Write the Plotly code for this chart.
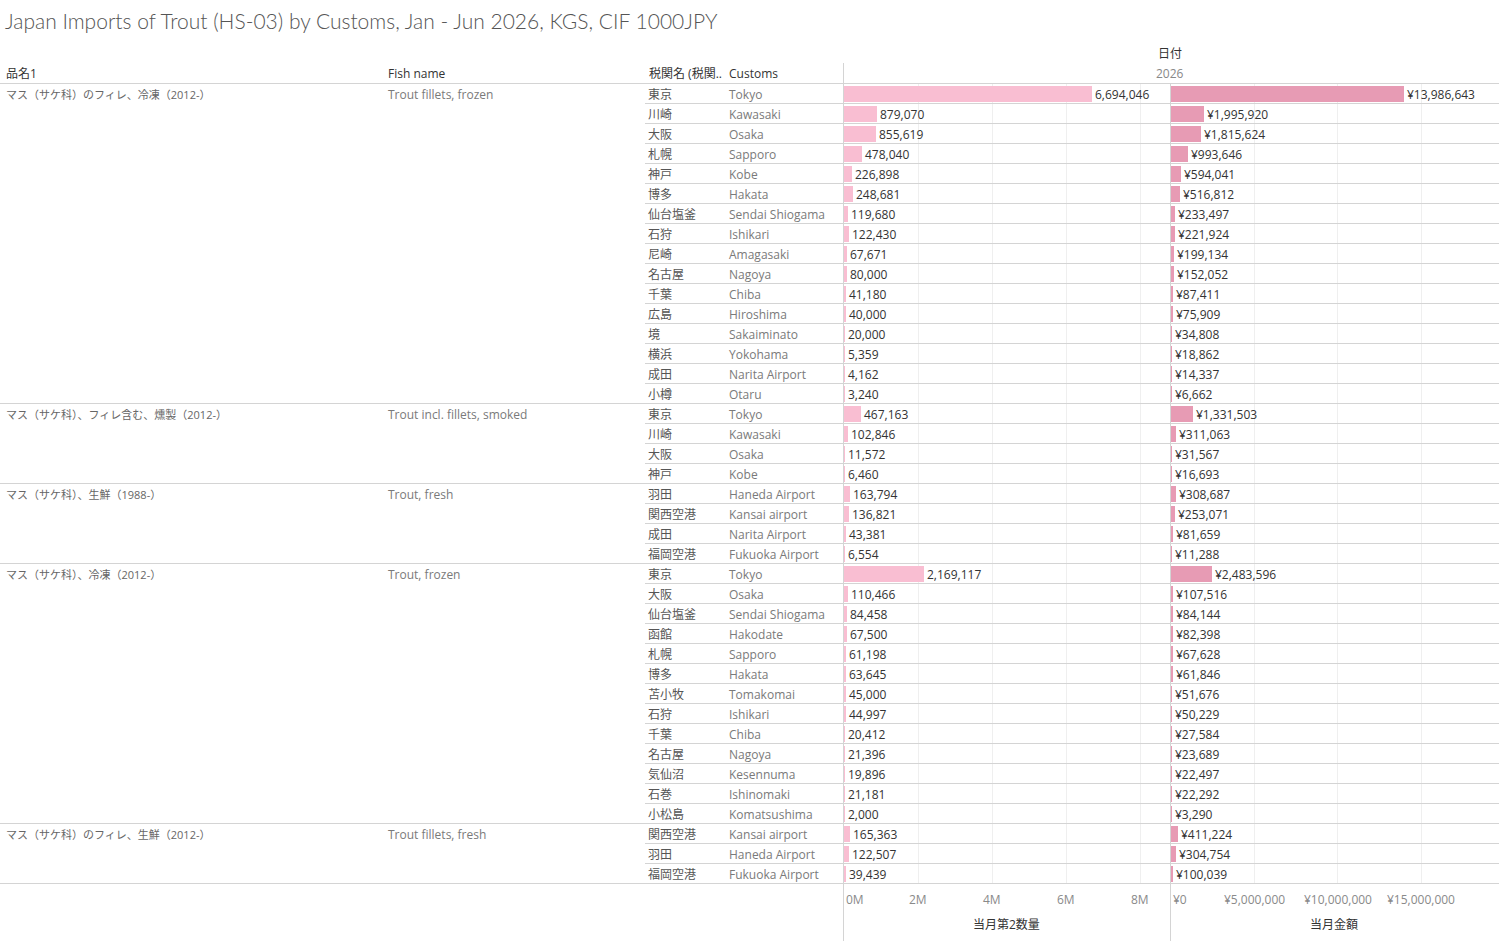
import plotly.graph_objects as go

W, H = 1499, 941

groups_jp = ["マス（サケ科）のフィレ、冷凍（2012-）",
             "マス（サケ科）、フィレ含む、燻製（2012-）",
             "マス（サケ科）、生鮮（1988-）",
             "マス（サケ科）、冷凍（2012-）",
             "マス（サケ科）のフィレ、生鮮（2012-）"]
groups_en = ["Trout fillets, frozen", "Trout incl. fillets, smoked", "Trout, fresh",
             "Trout, frozen", "Trout fillets, fresh"]
group_sizes = [16, 4, 4, 13, 3]

customs_jp = ["東京", "川崎", "大阪", "札幌", "神戸", "博多", "仙台塩釜", "石狩", "尼崎", "名古屋",
              "千葉", "広島", "境", "横浜", "成田", "小樽",
              "東京", "川崎", "大阪", "神戸",
              "羽田", "関西空港", "成田", "福岡空港",
              "東京", "大阪", "仙台塩釜", "函館", "札幌", "博多", "苫小牧", "石狩", "千葉", "名古屋",
              "気仙沼", "石巻", "小松島",
              "関西空港", "羽田", "福岡空港"]
customs_en = ["Tokyo", "Kawasaki", "Osaka", "Sapporo", "Kobe", "Hakata", "Sendai Shiogama", "Ishikari",
              "Amagasaki", "Nagoya", "Chiba", "Hiroshima", "Sakaiminato", "Yokohama", "Narita Airport", "Otaru",
              "Tokyo", "Kawasaki", "Osaka", "Kobe",
              "Haneda Airport", "Kansai airport", "Narita Airport", "Fukuoka Airport",
              "Tokyo", "Osaka", "Sendai Shiogama", "Hakodate", "Sapporo", "Hakata", "Tomakomai", "Ishikari",
              "Chiba", "Nagoya", "Kesennuma", "Ishinomaki", "Komatsushima",
              "Kansai airport", "Haneda Airport", "Fukuoka Airport"]
quantity = [6694046, 879070, 855619, 478040, 226898, 248681, 119680, 122430, 67671, 80000,
            41180, 40000, 20000, 5359, 4162, 3240,
            467163, 102846, 11572, 6460,
            163794, 136821, 43381, 6554,
            2169117, 110466, 84458, 67500, 61198, 63645, 45000, 44997, 20412, 21396,
            19896, 21181, 2000,
            165363, 122507, 39439]
amount = [13986643, 1995920, 1815624, 993646, 594041, 516812, 233497, 221924, 199134, 152052,
          87411, 75909, 34808, 18862, 14337, 6662,
          1331503, 311063, 31567, 16693,
          308687, 253071, 81659, 11288,
          2483596, 107516, 84144, 82398, 67628, 61846, 51676, 50229, 27584, 23689,
          22497, 22292, 3290,
          411224, 304754, 100039]

qty_ticks = [0, 2000000, 4000000, 6000000, 8000000]
qty_tick_labels = ["0M", "2M", "4M", "6M", "8M"]
amt_ticks = [0, 5000000, 10000000, 15000000]
amt_tick_labels = ["¥0", "¥5,000,000", "¥10,000,000", "¥15,000,000"]

FONT = "'Open Sans', 'Noto Sans CJK JP', sans-serif"
TFONT = "Lato, 'Noto Sans CJK JP', sans-serif"
TOP, ROWH = 84, 20
N = len(quantity)
BOTTOM = TOP + ROWH * N


def px(x):
    return x / W


def py(y):
    return 1 - y / H


rows = list(range(N))
fig = go.Figure()
fig.add_trace(go.Bar(
    x=quantity, y=rows, orientation="h", xaxis="x", yaxis="y",
    marker=dict(color="#f9bed2", line=dict(width=0)), width=0.76,
    text=[f"{v:,}" for v in quantity], textposition="outside", constraintext="none",
    textfont=dict(family=FONT, size=12, color="#333333"), cliponaxis=False,
    hoverinfo="skip"))
fig.add_trace(go.Bar(
    x=amount, y=rows, orientation="h", xaxis="x2", yaxis="y",
    marker=dict(color="#e79bb4", line=dict(width=0)), width=0.76,
    text=[f"¥{v:,}" for v in amount], textposition="outside", constraintext="none",
    textfont=dict(family=FONT, size=12, color="#333333"), cliponaxis=False,
    hoverinfo="skip"))

ann = []
shapes = []

# title
ann.append(dict(text="Japan Imports of Trout (HS-03) by Customs, Jan - Jun 2026, KGS, CIF 1000JPY",
                x=px(3), y=py(21), xref="paper", yref="paper", xanchor="left", yanchor="middle",
                showarrow=False, font=dict(family=TFONT, size=21, color="#555555", weight=300)))
# headers
for t, x in [("品名1", 4), ("Fish name", 386), ("税関名 (税関..", 647), ("Customs", 727)]:
    ann.append(dict(text=t, x=px(x), y=py(73), xref="paper", yref="paper", xanchor="left",
                    yanchor="middle", showarrow=False, font=dict(family=FONT, size=12, color="#333333")))
ann.append(dict(text="日付", x=px(1170), y=py(53), xref="paper", yref="paper", xanchor="center",
                yanchor="middle", showarrow=False, font=dict(family=FONT, size=12, color="#333333")))
ann.append(dict(text="2026", x=px(1170), y=py(73), xref="paper", yref="paper", xanchor="center",
                yanchor="middle", showarrow=False, font=dict(family=FONT, size=12, color="#888888")))

# row texts
for i in range(N):
    ann.append(dict(text=customs_jp[i], x=px(646), y=i, xref="paper", yref="y", xanchor="left",
                    yanchor="middle", showarrow=False, font=dict(family=FONT, size=12, color="#555555")))
    ann.append(dict(text=customs_en[i], x=px(727), y=i, xref="paper", yref="y", xanchor="left",
                    yanchor="middle", showarrow=False, font=dict(family=FONT, size=12, color="#7a7a7a")))

start = 0
group_bounds = [0]
for g, size in enumerate(group_sizes):
    ann.append(dict(text=groups_jp[g], x=px(4), y=start, xref="paper", yref="y", xanchor="left",
                    yanchor="middle", showarrow=False, font=dict(family=FONT, size=11, color="#666666")))
    ann.append(dict(text=groups_en[g], x=px(386), y=start, xref="paper", yref="y", xanchor="left",
                    yanchor="middle", showarrow=False, font=dict(family=FONT, size=12, color="#7a7a7a")))
    start += size
    group_bounds.append(start)

# tick labels
for v, t in zip(qty_ticks, qty_tick_labels):
    ann.append(dict(text=t, x=v, y=py(899), xref="x", yref="paper", xanchor="left" if v == 0 else "center",
                    yanchor="middle", showarrow=False,
                    font=dict(family=FONT, size=12, color="#8a8a8a")))
for v, t in zip(amt_ticks, amt_tick_labels):
    ann.append(dict(text=t, x=v, y=py(899), xref="x2", yref="paper", xanchor="left" if v == 0 else "center",
                    yanchor="middle", showarrow=False,
                    font=dict(family=FONT, size=12, color="#8a8a8a")))
ann.append(dict(text="当月第2数量", x=px(1006), y=py(924), xref="paper", yref="paper", xanchor="center",
                yanchor="middle", showarrow=False, font=dict(family=FONT, size=12, color="#333333")))
ann.append(dict(text="当月金額", x=px(1334), y=py(924), xref="paper", yref="paper", xanchor="center",
                yanchor="middle", showarrow=False, font=dict(family=FONT, size=12, color="#333333")))

LINE = "#d4d4d4"
# row separators
for k in range(1, N + 1):
    yk = py(TOP + ROWH * k - 0.5)
    x0 = 0 if k in group_bounds else px(645)
    shapes.append(dict(type="line", xref="paper", yref="paper", x0=x0, x1=1, y0=yk, y1=yk,
                       line=dict(color=LINE, width=1)))
shapes.append(dict(type="line", xref="paper", yref="paper", x0=0, x1=1, y0=py(TOP - 0.5), y1=py(TOP - 0.5),
                   line=dict(color=LINE, width=1)))
# vertical separators
shapes.append(dict(type="line", xref="paper", yref="paper", x0=px(843.5), x1=px(843.5), y0=py(63), y1=0,
                   line=dict(color=LINE, width=1)))
shapes.append(dict(type="line", xref="paper", yref="paper", x0=px(1170.5), x1=px(1170.5), y0=py(TOP), y1=0,
                   line=dict(color=LINE, width=1)))

fig.update_layout(
    width=W, height=H, margin=dict(l=0, r=0, t=0, b=0),
    paper_bgcolor="white", plot_bgcolor="white", showlegend=False, bargap=0,
    font=dict(family=FONT, size=12, color="#333333"),
    xaxis=dict(domain=[px(844), px(1170)], range=[0, 8.8e6], tickvals=qty_ticks, showticklabels=False,
               showgrid=True, gridcolor="#efefef", zeroline=False, showline=False, ticks="", anchor="y",
               fixedrange=True),
    xaxis2=dict(domain=[px(1171), px(1498)], range=[0, 19.6e6], tickvals=amt_ticks, showticklabels=False,
                showgrid=True, gridcolor="#efefef", zeroline=False, showline=False, ticks="", anchor="y",
                fixedrange=True),
    yaxis=dict(domain=[py(BOTTOM), py(TOP)], range=[N - 0.5, -0.5], showticklabels=False, showgrid=False,
               zeroline=False, showline=False, ticks="", fixedrange=True),
    annotations=ann, shapes=shapes,
)

fig.write_html("out.html", config={"displayModeBar": False},
               post_script="document.body.style.margin='0';document.body.style.overflow='hidden';")
